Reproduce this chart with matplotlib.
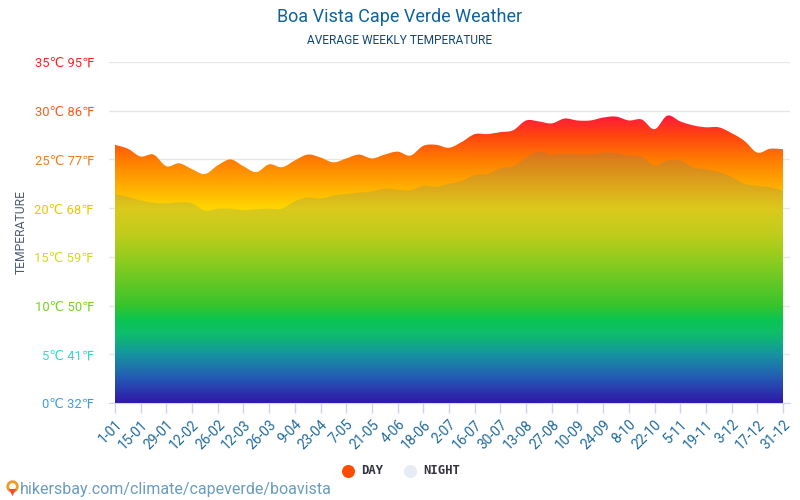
import numpy as np
import matplotlib
matplotlib.use('Agg')
import matplotlib.pyplot as plt
from matplotlib.colors import LinearSegmentedColormap

plt.rcParams['font.family'] = ['Roboto', 'DejaVu Sans']

# значения, точка на каждую неделю
day = [26.5, 26.1, 25.3, 25.5, 24.3, 24.6, 24.0, 23.5, 24.4, 25.0, 24.3, 23.7, 24.5, 24.2,
       24.9, 25.5, 25.2, 24.7, 25.1, 25.5, 25.1, 25.5, 25.8, 25.4, 26.4, 26.5, 26.2, 26.8,
       27.6, 27.6, 27.8, 28.0, 29.0, 28.9, 28.7, 29.2, 29.0, 29.0, 29.3, 29.4, 29.0, 29.1,
       28.1, 29.5, 28.9, 28.5, 28.3, 28.3, 27.7, 26.9, 25.7, 26.1, 26.05]
night = [21.45, 21.15, 20.8, 20.55, 20.5, 20.6, 20.5, 19.75, 19.95, 19.95, 19.8, 19.9, 19.95,
         19.95, 20.7, 21.1, 21.0, 21.3, 21.45, 21.6, 21.7, 22.0, 21.9, 21.85, 22.3, 22.2, 22.5,
         22.8, 23.4, 23.5, 24.1, 24.3, 25.2, 25.8, 25.5, 25.6, 25.55, 25.5, 25.7, 25.65, 25.4,
         25.3, 24.4, 24.9, 24.9, 24.2, 24.0, 23.7, 23.2, 22.5, 22.3, 22.15, 21.8]
x_labels = ['1-01', '15-01', '29-01', '12-02', '26-02', '12-03', '26-03', '9-04', '23-04',
            '7-05', '21-05', '4-06', '18-06', '2-07', '16-07', '30-07', '13-08', '27-08',
            '10-09', '24-09', '8-10', '22-10', '5-11', '19-11', '3-12', '17-12', '31-12']
temps_c = [0, 5, 10, 15, 20, 25, 30, 35]
temps_f = [32, 41, 50, 59, 68, 77, 86, 95]
temp_colors = ['#3f9fe0', '#2fdcc8', '#74d420', '#d4d820', '#e8c800', '#f57c1c', '#ff5a20', '#ff2020']

# цвета градиента по температуре
grad_stops = [(0, '#2d00ac'), (2.5, '#1f4fbb'), (5, '#0d98a2'), (7, '#05c765'), (8.5, '#00d243'),
              (10, '#37d115'), (15, '#aadc04'), (17.5, '#e0db00'), (20, '#ffd700'), (25, '#ff7c00'),
              (27.5, '#ff4410'), (30, '#ff1044'), (35, '#ff0050')]
cmap = LinearSegmentedColormap.from_list('temp', [(t / 35, c) for t, c in grad_stops])


def smooth(xs, ys, n=12):
    # кубическая интерполяция Эрмита, чтобы контур был плавным как в оригинале
    xs = np.asarray(xs, dtype=float)
    ys = np.asarray(ys, dtype=float)
    m = np.gradient(ys, xs)
    xx, yy = [], []
    for i in range(len(xs) - 1):
        t = np.linspace(0, 1, n, endpoint=False)
        h = xs[i + 1] - xs[i]
        yy.append((2*t**3 - 3*t**2 + 1) * ys[i] + (t**3 - 2*t**2 + t) * h * m[i]
                  + (-2*t**3 + 3*t**2) * ys[i + 1] + (t**3 - t**2) * h * m[i + 1])
        xx.append(xs[i] + t * h)
    return np.append(np.concatenate(xx), xs[-1]), np.append(np.concatenate(yy), ys[-1])


fig = plt.figure(figsize=(8, 5), dpi=100)
ax = fig.add_axes([109 / 800, 1 - 403 / 500, 681 / 800, 341 / 500])

weeks = np.arange(len(day))
x_day, y_day = smooth(weeks, day)
x_night, y_night = smooth(weeks, night)

# дневная область: вертикальный градиент, обрезанный по контуру
grad = np.linspace(0, 1, 512).reshape(-1, 1)
im = ax.imshow(grad, cmap=cmap, origin='lower', aspect='auto',
               extent=[weeks[0], weeks[-1], 0, 35], zorder=2)
ax.set_xlim(-6 / 12.846, 52 + 7 / 12.846)
ax.set_ylim(0, 35)
poly = ax.fill_between(x_day, 0, y_day, facecolor='none', edgecolor='none')
im.set_clip_path(poly.get_paths()[0], transform=ax.transData)

# ночная область: полупрозрачный слой сверху
ax.fill_between(x_night, 0, y_night, facecolor='#3c8c96', edgecolor='none', alpha=0.18, zorder=3)

for s in ['top', 'left', 'right']:
    ax.spines[s].set_visible(False)
ax.spines['bottom'].set_color('#ccd6eb')

ax.set_axisbelow(True)
ax.grid(axis='y', color='#e6e6e6', linewidth=1)
ax.set_yticks(temps_c)
ax.set_yticklabels([f'{c}℃ {f}℉' for c, f in zip(temps_c, temps_f)], fontsize=9.4)
ax.tick_params(axis='y', length=0, pad=10.8)
for lab, col in zip(ax.get_yticklabels(), temp_colors):
    lab.set_color(col)

ax.set_xticks(weeks[::2])
ax.set_xticklabels(x_labels, rotation=45, ha='right', rotation_mode='anchor',
                   fontsize=10, color='#1f6a9e')
ax.tick_params(axis='x', length=7.2, width=1, color='#ccd6eb', pad=3)

fig.text(400 / 800, 1 - 17 / 500, 'Boa Vista Cape Verde Weather', ha='center', va='center',
         fontsize=13, color='#0f639c')
fig.text(400 / 800, 1 - 41 / 500, 'AVERAGE WEEKLY TEMPERATURE', ha='center', va='center',
         fontsize=8.6, color='#0b4a80')
fig.text(21 / 800, 1 - 232 / 500, 'TEMPERATURE', rotation=90, ha='center', va='center',
         fontsize=8.7, color='#4d5a75')

# легенда и подпись снизу
overlay = fig.add_axes([0, 0, 1, 1], facecolor='none')
overlay.set_xlim(0, 800)
overlay.set_ylim(500, 0)
overlay.axis('off')
overlay.scatter([348], [471], s=88, color='#ff4d00', linewidths=0)
overlay.scatter([410], [471], s=88, color='#e6ecf3', linewidths=0)
overlay.text(361, 471, 'DAY', family='DejaVu Sans Mono', weight='bold', fontsize=8.8,
             color='#333340', va='center')
overlay.text(423, 471, 'NIGHT', family='DejaVu Sans Mono', weight='bold', fontsize=8.8,
             color='#333340', va='center')
overlay.scatter([12], [486], s=48, facecolor='white', edgecolor='#f59a23', linewidths=2)
overlay.scatter([12], [492], s=26, marker='v', color='#e8503a', linewidths=0)
overlay.text(20, 489.5, 'hikersbay.com/climate/capeverde/boavista', fontsize=11.55, color='#6a9cbf',
             va='center')

fig.savefig('out.png', dpi=100)
